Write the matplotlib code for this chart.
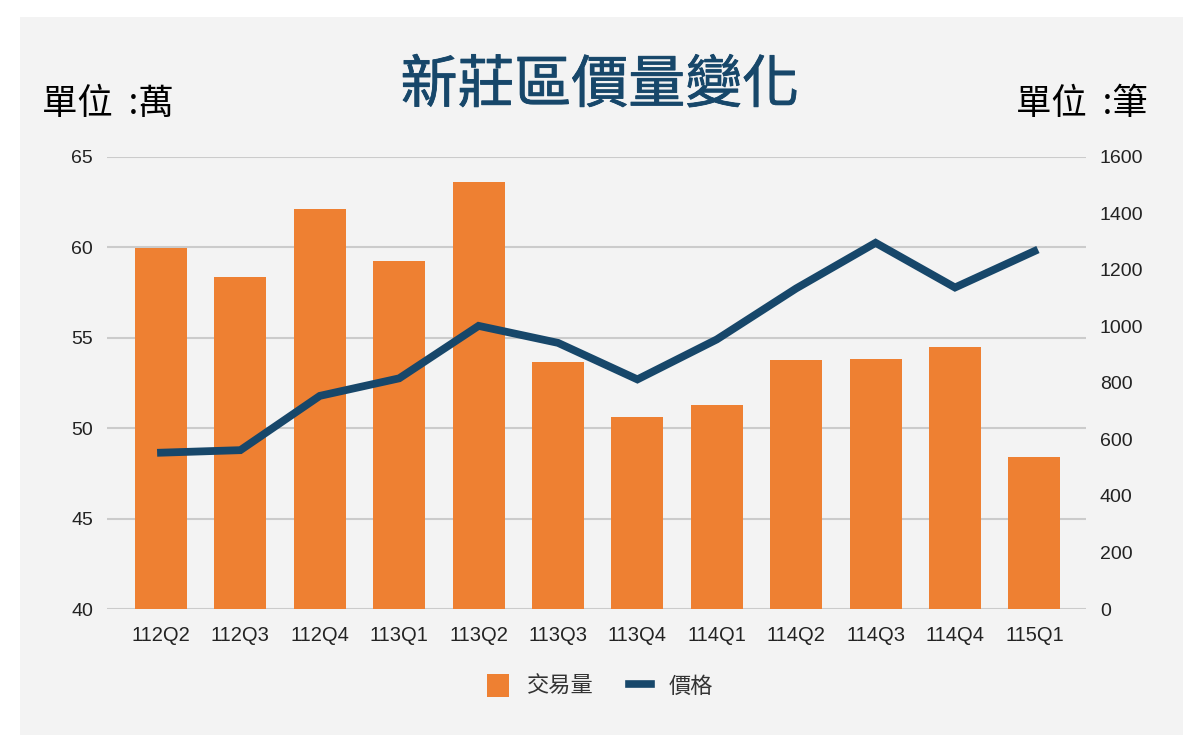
import matplotlib
matplotlib.use("Agg")
import matplotlib.pyplot as plt
import matplotlib.patheffects as pe
from matplotlib.patches import Rectangle, Patch
from matplotlib.lines import Line2D

plt.rcParams['font.family'] = ['Liberation Sans', 'Noto Sans CJK TC', 'DejaVu Sans']

quarters = ["112Q2", "112Q3", "112Q4", "113Q1", "113Q2", "113Q3",
            "113Q4", "114Q1", "114Q2", "114Q3", "114Q4", "115Q1"]
volume = [1278, 1175, 1416, 1231, 1511, 874, 680, 720, 880, 885, 927, 537]
price = [48.64, 48.78, 51.78, 52.75, 55.65, 54.71, 52.69, 54.90, 57.72, 60.24, 57.77, 59.78]
price_ticks = [40, 45, 50, 55, 60, 65]
volume_ticks = [0, 200, 400, 600, 800, 1000, 1200, 1400, 1600]

BAR = "#ee8032"
LINE = "#17476a"
PANEL = "#f3f3f3"
GRID = "#cbcbcb"
CJK = ['Noto Sans CJK TC', 'DejaVu Sans']

fig = plt.figure(figsize=(12, 7.48), dpi=100)
fig.patch.set_facecolor("white")
fig.patches.append(Rectangle((20/1200, 1-735/748), (1183-20)/1200, (735-17)/748,
                             transform=fig.transFigure, facecolor=PANEL,
                             edgecolor="none", zorder=0))

rect = [107/1200, 1-609/748, (1086-107)/1200, (609-156.7)/748]
x = list(range(len(quarters)))
xlim = (-0.68, 11.65)

# grid axes (background)
axg = fig.add_axes(rect, zorder=1)
axg.set_facecolor("none")
axg.set_xlim(*xlim)
axg.set_ylim(price_ticks[0], price_ticks[-1])
axg.set_yticks(price_ticks)
axg.set_xticks([])
axg.grid(axis='y', color=GRID, linewidth=1.5)
axg.tick_params(axis='y', length=0, labelleft=False)
for s in axg.spines.values():
    s.set_visible(False)

# bars axes (right axis)
axb = fig.add_axes(rect, zorder=2)
axb.set_facecolor("none")
axb.bar(x, volume, width=0.655, color=BAR, zorder=2)
axb.set_xlim(*xlim)
axb.set_ylim(volume_ticks[0], volume_ticks[-1])
axb.set_yticks(volume_ticks)
axb.yaxis.tick_right()
axb.tick_params(axis='y', length=0, pad=10, labelsize=14, labelcolor="#222222")
axb.set_xticks(x)
axb.set_xticklabels(quarters)
axb.tick_params(axis='x', length=0, pad=12, labelsize=14.5, labelcolor="#222222")
for s in axb.spines.values():
    s.set_visible(False)

# line axes (left axis)
axl = fig.add_axes(rect, zorder=3)
axl.set_facecolor("none")
axl.plot(x, price, color=LINE, linewidth=5.6, solid_joinstyle='miter')
axl.set_xlim(*xlim)
axl.set_ylim(price_ticks[0], price_ticks[-1])
axl.set_yticks(price_ticks)
axl.set_xticks([])
axl.tick_params(axis='y', length=0, pad=10, labelsize=14, labelcolor="#222222")
for s in axl.spines.values():
    s.set_visible(False)

fig.text(0.5, 1-86/748, "新莊區價量變化", ha='center', va='center',
         fontsize=41, fontweight='medium', color=LINE, family=CJK,
         path_effects=[pe.withStroke(linewidth=0.6, foreground=LINE)])
fig.text(42/1200, 1-104/748, "單位  :萬", ha='left', va='center',
         fontsize=25.5, color="black", family=CJK)
fig.text(1148/1200, 1-104/748, "單位  :筆", ha='right', va='center',
         fontsize=25.5, color="black", family=CJK)

handles = [Patch(facecolor=BAR, edgecolor='none'),
           Line2D([0], [0], color=LINE, linewidth=5.5)]
fig.legend(handles, ["交易量", "價格"], loc='center', bbox_to_anchor=(0.5, 1-686/748),
           ncol=2, frameon=False, prop={'family': CJK, 'size': 16},
           labelcolor="#333333",
           handlelength=1.0, handleheight=1.2, columnspacing=1.6, handletextpad=0.8)

fig.savefig("out.png", dpi=100, facecolor=fig.get_facecolor())
